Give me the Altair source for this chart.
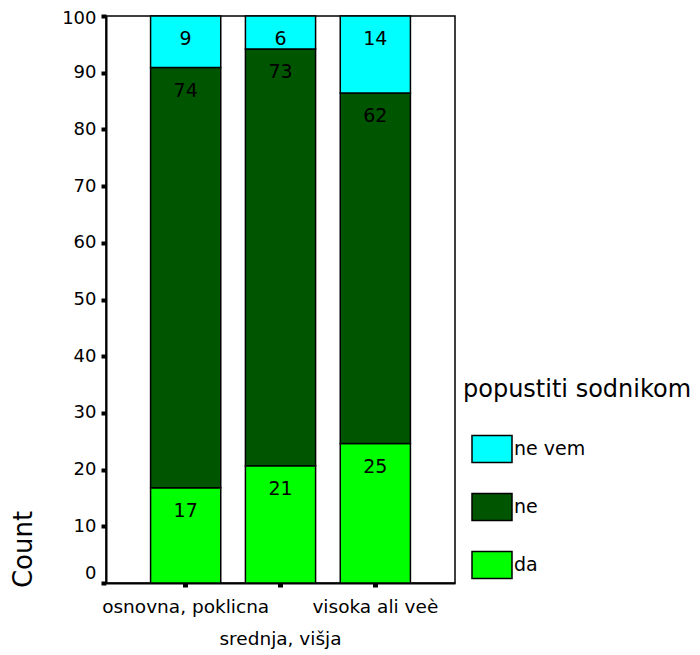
import altair as alt
import pandas as pd

categories = ["osnovna, poklicna", "srednja, višja", "visoka ali veè"]
responses = ["da", "ne", "ne vem"]
# segment heights (percent), per category
da_values = [16.8, 20.7, 24.6]
ne_values = [74.1, 73.5, 61.8]
nevem_values = [9.1, 5.8, 13.6]
# printed labels
da_labels = ["17", "21", "25"]
ne_labels = ["74", "73", "62"]
nevem_labels = ["9", "6", "14"]

legend_order = ["ne vem", "ne", "da"]
colors = ["#00FFFF", "#005500", "#00FF00"]

rows = []
for i, c in enumerate(categories):
    bottom = 0.0
    for r, vals, labs in zip(responses, [da_values, ne_values, nevem_values],
                             [da_labels, ne_labels, nevem_labels]):
        v = vals[i]
        rows.append({"cat": c, "resp": r, "bottom": bottom, "top": bottom + v, "label": labs[i]})
        bottom += v
df = pd.DataFrame(rows)

FONT = "DejaVu Sans"

x_enc = alt.X("cat:N", sort=categories, title=None,
              scale=alt.Scale(paddingInner=0.26, paddingOuter=0.47),
              axis=alt.Axis(labelAngle=0, labelFontSize=18.5, labelFont=FONT, labelColor="black",
                            domainColor="black", domainWidth=2, tickColor="black",
                            tickSize=4, tickWidth=5,
                            labelPadding={"condition": {"test": "datum.value === 'srednja, višja'",
                                                        "value": 42}, "value": 10}))

y_scale = alt.Scale(domain=[0, 100], nice=False)

bars = alt.Chart(df).mark_bar(stroke="black", strokeWidth=1.5).encode(
    x=x_enc,
    y=alt.Y("bottom:Q", scale=y_scale,
            axis=alt.Axis(values=list(range(0, 101, 10)), grid=False, title="Count",
                          titleFont=FONT, titleFontSize=26, titleFontWeight="normal", titleColor="black",
                          titleAngle=-90, titleAlign="center", titleBaseline="middle",
                          titleX=-83, titleY=533,
                          labelFontSize=18, labelFont=FONT, labelColor="black", labelPadding=5,
                          labelOffset={"condition": [{"test": "datum.value === 0", "value": -10},
                                                     {"test": "datum.value === 100", "value": 2}],
                                       "value": 0},
                          domainColor="black", domainWidth=2, tickColor="black",
                          tickSize=5, tickWidth=4)),
    y2="top:Q",
    color=alt.Color("resp:N", scale=alt.Scale(domain=legend_order, range=colors),
                    legend=alt.Legend(title="popustiti sodnikom", orient="none",
                                      legendX=357, legendY=362, padding=0,
                                      titleFont=FONT, titleFontSize=24, titleFontWeight="normal",
                                      titleColor="black", titlePadding=26, titleLimit=0,
                                      labelFont=FONT, labelFontSize=19, labelColor="black",
                                      labelOffset=1, symbolOffset=8,
                                      symbolType="M-1,-0.68H1V0.68H-1Z", symbolSize=1600,
                                      symbolStrokeColor="black", symbolStrokeWidth=1.5,
                                      symbolOpacity=1, rowPadding=20)),
)

texts = alt.Chart(df).mark_text(font=FONT, fontSize=19, color="black", baseline="middle",
                                align="center", dy=23).encode(
    x=alt.X("cat:N", sort=categories),
    y=alt.Y("top:Q", scale=y_scale),
    text="label:N",
)

chart = alt.layer(bars, texts).properties(
    width=349, height=567,
    background="white",
    autosize=alt.AutoSizeParams(type="none"),
    padding={"left": 98, "top": 8, "right": 237, "bottom": 72},
).configure_view(stroke="black", strokeWidth=1.5)

chart.save("out.html", embed_options={"renderer": "svg", "actions": False})
